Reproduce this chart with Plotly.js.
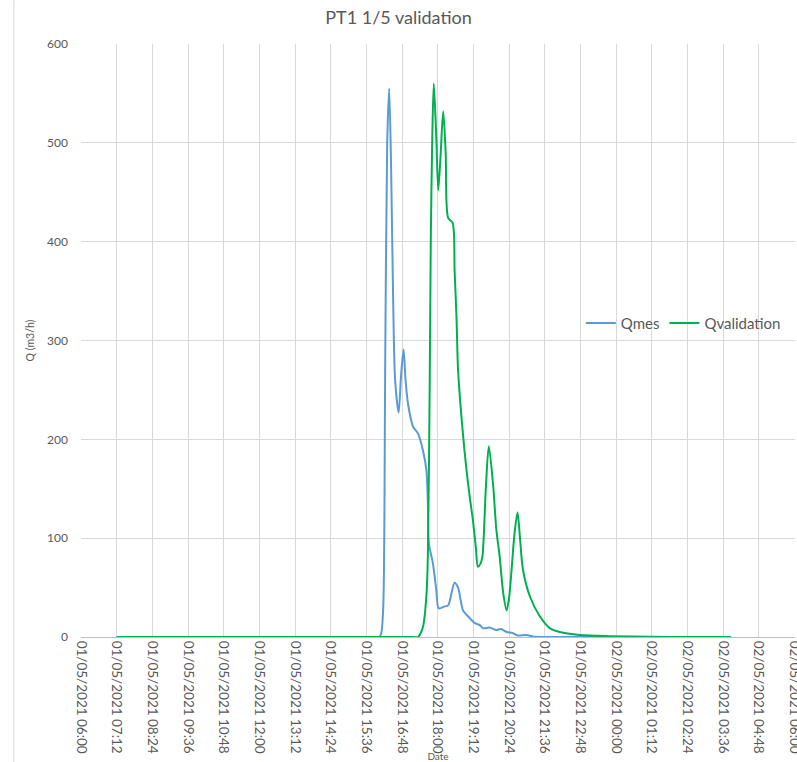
<!DOCTYPE html>
<html>
<head>
<meta charset="utf-8">
<script src="https://cdn.plot.ly/plotly-3.0.1.min.js"></script>
<style>html,body{margin:0;padding:0;background:#fff;}#chart{width:797px;height:762px;}</style>
</head>
<body>
<div id="chart"></div>
<script>
const mesTime = ['2021-05-01 07:12','2021-05-01 12:00','2021-05-01 15:55','2021-05-01 16:02','2021-05-01 16:06','2021-05-01 16:10','2021-05-01 16:14','2021-05-01 16:18','2021-05-01 16:22','2021-05-01 16:26','2021-05-01 16:30','2021-05-01 16:34','2021-05-01 16:41','2021-05-01 16:46','2021-05-01 16:51','2021-05-01 16:55','2021-05-01 17:00','2021-05-01 17:10','2021-05-01 17:20','2021-05-01 17:30','2021-05-01 17:37','2021-05-01 17:40','2021-05-01 17:42','2021-05-01 17:50','2021-05-01 17:57','2021-05-01 18:02','2021-05-01 18:14','2021-05-01 18:21','2021-05-01 18:28','2021-05-01 18:34','2021-05-01 18:41','2021-05-01 18:51','2021-05-01 19:01','2021-05-01 19:15','2021-05-01 19:25','2021-05-01 19:31','2021-05-01 19:45','2021-05-01 19:58','2021-05-01 20:08','2021-05-01 20:19','2021-05-01 20:31','2021-05-01 20:41','2021-05-01 20:59','2021-05-01 21:12','2021-05-01 21:36','2021-05-02 00:00','2021-05-02 03:52'];
const mesValue = [0,0,0,0,4,30,280,500,555,470,340,260,227,265,291,260,236,213,206,189,169,136,95,75,48,29,31,32,45,55,50,27,21,14,12,9,9.5,7,8,5,4,1.5,2,0.5,0,0,0];

const valTime = ['2021-05-01 07:12','2021-05-01 12:00','2021-05-01 17:10','2021-05-01 17:20','2021-05-01 17:30','2021-05-01 17:37','2021-05-01 17:40','2021-05-01 17:44','2021-05-01 17:46','2021-05-01 17:49','2021-05-01 17:52','2021-05-01 17:57','2021-05-01 18:01','2021-05-01 18:06','2021-05-01 18:11','2021-05-01 18:16','2021-05-01 18:21','2021-05-01 18:30','2021-05-01 18:34','2021-05-01 18:38','2021-05-01 18:41','2021-05-01 18:50','2021-05-01 18:58','2021-05-01 19:05','2021-05-01 19:11','2021-05-01 19:17','2021-05-01 19:21','2021-05-01 19:26','2021-05-01 19:30','2021-05-01 19:37','2021-05-01 19:43','2021-05-01 19:52','2021-05-01 19:58','2021-05-01 20:05','2021-05-01 20:12','2021-05-01 20:19','2021-05-01 20:24','2021-05-01 20:29','2021-05-01 20:35','2021-05-01 20:41','2021-05-01 20:46','2021-05-01 20:52','2021-05-01 21:06','2021-05-01 21:26','2021-05-01 21:46','2021-05-01 22:06','2021-05-01 22:46','2021-05-01 23:47','2021-05-02 01:08','2021-05-02 02:30','2021-05-02 03:52'];
const valValue = [0,0,0,0,10,41,81,270,405,506,560,506,452,490,532,490,424,419,371,321,270,210,169,140,118,90,71,74,81,150,193,152,110,81,45,27,40,68,105,126,100,68,41,21,9,5,2,0.8,0.2,0,0];

const tickVals = [];
const tickText = [];
(function(){
  const start = Date.UTC(2021,4,1,6,0);
  for (let i=0;i<=20;i++){
    const d = new Date(start + i*72*60000);
    const p = n => String(n).padStart(2,'0');
    tickVals.push(`${d.getUTCFullYear()}-${p(d.getUTCMonth()+1)}-${p(d.getUTCDate())} ${p(d.getUTCHours())}:${p(d.getUTCMinutes())}`);
    tickText.push(`${p(d.getUTCDate())}/${p(d.getUTCMonth()+1)}/${d.getUTCFullYear()} ${p(d.getUTCHours())}:${p(d.getUTCMinutes())}`);
  }
})();

const grey = '#595959';
const traces = [
  {x: mesTime, y: mesValue, name: 'Qmes', type: 'scatter', mode: 'lines',
   line: {color: '#5B9BD5', width: 2, shape: 'spline', smoothing: 0.8}},
  {x: valTime, y: valValue, name: 'Qvalidation', type: 'scatter', mode: 'lines',
   line: {color: '#00B050', width: 2, shape: 'spline', smoothing: 0.8}}
];

const layout = {
  width: 797, height: 762,
  margin: {l: 81, r: 2, t: 44, b: 125},
  paper_bgcolor: '#fff', plot_bgcolor: '#fff',
  font: {family: 'Lato, "Open Sans", sans-serif', color: grey},
  title: {text: 'PT1 1/5 validation', x: 0.5, xanchor: 'center', y: 0.977, yanchor: 'middle', font: {size: 18, color: grey}},
  showlegend: true,
  legend: {orientation: 'h', x: 0.7, xanchor: 'left', y: 0.529, yanchor: 'middle', bgcolor: 'rgba(0,0,0,0)', font: {size: 15, color: grey}, itemwidth: 30},
  xaxis: {
    type: 'date', range: ['2021-05-01 06:00', '2021-05-02 06:01'],
    tickmode: 'array', tickvals: tickVals, ticktext: tickText, tickangle: 90,
    ticklabeloverflow: 'allow',
    tickfont: {size: 13.5, color: grey}, showgrid: true, gridcolor: '#D9D9D9', gridwidth: 1,
    showline: true, linecolor: '#BFBFBF', linewidth: 1, zeroline: false, ticks: '',
    title: {text: 'Date', font: {size: 10, color: grey}, standoff: 0}
  },
  yaxis: {
    range: [0, 600], dtick: 100, tick0: 0,
    tickfont: {size: 12, color: grey}, showgrid: true, gridcolor: '#D9D9D9', gridwidth: 1,
    showline: false, zeroline: false, ticks: '', ticklabelstandoff: 12,
    title: {text: 'Q (m3/h)', font: {size: 10.5, color: grey}, standoff: 10}
  },
  shapes: [
    {type: 'line', xref: 'paper', yref: 'paper', x0: -0.094, x1: -0.094, y0: -0.211, y1: 1.074, line: {color: '#D9D9D9', width: 1}}
  ]
};

Plotly.newPlot('chart', traces, layout, {staticPlot: true, displayModeBar: false});
</script>
</body>
</html>
